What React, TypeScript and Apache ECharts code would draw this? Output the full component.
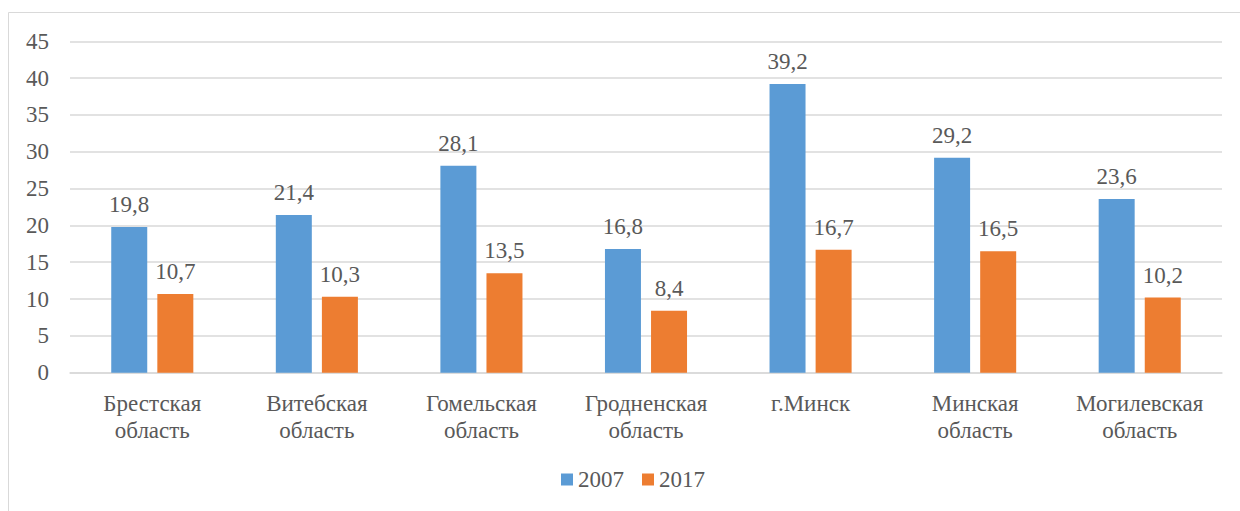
import React, { useEffect, useRef } from "react";
import * as echarts from "echarts";

const categories = [
  "Брестская\nобласть",
  "Витебская\nобласть",
  "Гомельская\nобласть",
  "Гродненская\nобласть",
  "г.Минск",
  "Минская\nобласть",
  "Могилевская\nобласть",
];
const values2007 = [19.8, 21.4, 28.1, 16.8, 39.2, 29.2, 23.6];
const values2017 = [10.7, 10.3, 13.5, 8.4, 16.7, 16.5, 10.2];
const seriesNames = ["2007", "2017"];

const FONT = "Liberation Serif";
const FS = 23;
const TEXT = "#595959";

export default function App() {
  const ref = useRef<HTMLDivElement>(null);
  useEffect(() => {
    const chart = echarts.init(ref.current!, null, { renderer: "svg" });
    const label = {
      show: true,
      position: "top",
      distance: 11,
      fontFamily: FONT,
      fontSize: FS,
      color: TEXT,
      formatter: (p: any) => String(p.value).replace(".", ","),
    };
    chart.setOption({
      animation: false,
      graphic: [
        {
          type: "rect",
          shape: { x: 8.5, y: 12.5, width: 1400, height: 700 },
          style: { fill: "none", stroke: "#D9D9D9", lineWidth: 1 },
          silent: true,
        },
      ],
      grid: { left: 70, right: 18, top: 41.3, bottom: 138.3, containLabel: false },
      legend: {
        data: seriesNames,
        top: 468,
        left: 561,
        padding: 0,
        itemWidth: 12,
        itemHeight: 12,
        itemGap: 18,
        icon: "rect",
        textStyle: { fontFamily: FONT, fontSize: FS, color: TEXT },
      },
      xAxis: {
        type: "category",
        data: categories,
        axisLine: { lineStyle: { color: "#D9D9D9", width: 1.5 } },
        axisTick: { show: false },
        axisLabel: {
          fontFamily: FONT,
          fontSize: FS,
          color: TEXT,
          lineHeight: 27,
          margin: 17,
          interval: 0,
        },
      },
      yAxis: {
        type: "value",
        min: 0,
        max: 45,
        interval: 5,
        axisLine: { show: false },
        axisTick: { show: false },
        splitLine: { lineStyle: { color: "#D9D9D9", width: 1.5 } },
        axisLabel: { fontFamily: FONT, fontSize: FS, color: TEXT, margin: 21 },
      },
      series: [
        {
          name: seriesNames[0],
          type: "bar",
          data: values2007,
          barWidth: 36,
          barGap: "28%",
          itemStyle: { color: "#5B9BD5" },
          label,
        },
        {
          name: seriesNames[1],
          type: "bar",
          data: values2017,
          barWidth: 36,
          itemStyle: { color: "#ED7D31" },
          label,
        },
      ],
    });
    return () => chart.dispose();
  }, []);
  return (
    <div
      ref={ref}
      style={{ position: "fixed", left: 0, top: 0, width: 1240, height: 511, background: "#fff" }}
    />
  );
}
